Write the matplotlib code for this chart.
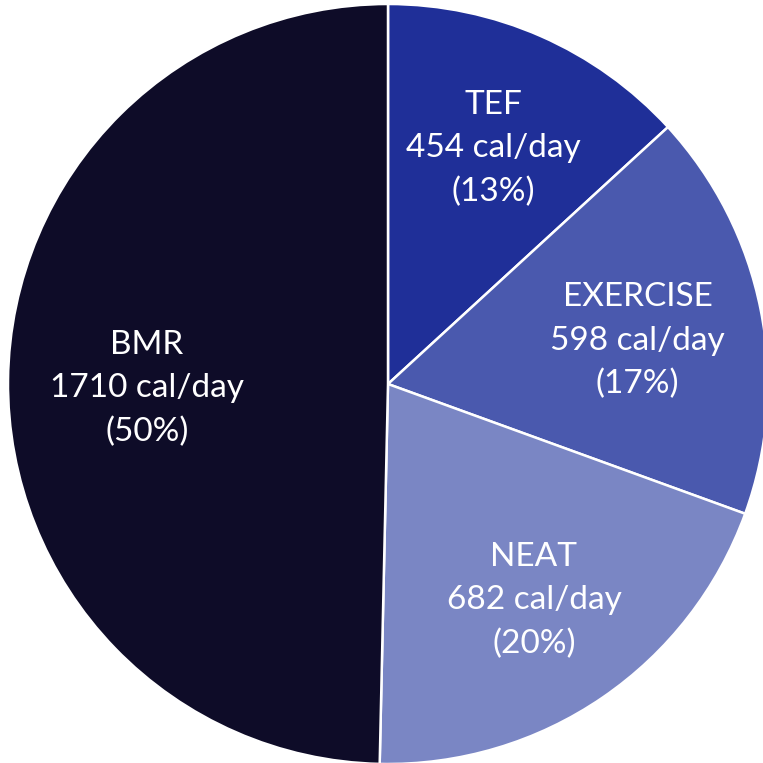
import numpy as np
import matplotlib.pyplot as plt

# ENERGY EXPENDITURE COMPONENTS (CLOCKWISE FROM TOP)
labels = ["TEF", "EXERCISE", "NEAT", "BMR"]
cals = [454, 598, 682, 1710]
pcts = [13, 17, 20, 50]
colors = ["#1f2f98", "#4a59ae", "#7a86c4", "#0e0c28"]
label_dist = [0.69, 0.67, 0.68, 0.635]
label_dy = [-0.011, -0.018, -0.008, -0.018]  # SMALL VERTICAL NUDGES

texts = [f"{l}\n{c} cal/day\n({p}%)" for l, c, p in zip(labels, cals, pcts)]

W = 763
fig = plt.figure(figsize=(W / 100, W / 100), dpi=100)
cx, cy, r = 388, 384, 380  # PIE CENTER AND RADIUS IN PIXELS
ax = fig.add_axes([(cx - r) / W, (W - cy - r) / W, 2 * r / W, 2 * r / W])

wedges, txts = ax.pie(cals, labels=texts, colors=colors, startangle=90,
                      counterclock=False, labeldistance=0.66,
                      wedgeprops=dict(edgecolor="white", linewidth=1.8),
                      textprops=dict(color="white", fontsize=24, family="Lato",
                                     ha="center", va="center", linespacing=1.55))
# NUDGE EACH LABEL ALONG ITS WEDGE'S MID ANGLE
for w, t, d, dy in zip(wedges, txts, label_dist, label_dy):
    ang = np.deg2rad((w.theta1 + w.theta2) / 2)
    t.set_position((d * np.cos(ang), d * np.sin(ang) + dy))
    t.set_horizontalalignment("center")
    t.set_multialignment("center")

ax.set_xlim(-1, 1)
ax.set_ylim(-1, 1)
ax.set_aspect("equal")
ax.axis("off")

fig.savefig("out.png", dpi=100)
